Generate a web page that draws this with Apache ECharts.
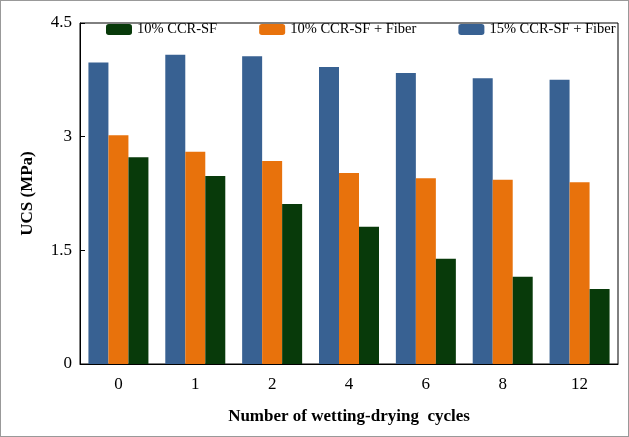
<!DOCTYPE html>
<html>
<head>
<meta charset="utf-8">
<script src="https://cdn.jsdelivr.net/npm/echarts@6/dist/echarts.min.js"></script>
<style>html,body{margin:0;padding:0;background:#fff}#c{width:627px;height:435px;border:1px solid #999}</style>
</head>
<body>
<div id="c"></div>
<script>
var cycles = ['0', '1', '2', '4', '6', '8', '12'];
var ccr10 = [2.73, 2.48, 2.11, 1.81, 1.39, 1.15, 0.99];
var ccr10Fiber = [3.02, 2.80, 2.68, 2.52, 2.45, 2.43, 2.40];
var ccr15Fiber = [3.98, 4.08, 4.06, 3.92, 3.84, 3.77, 3.75];
var yTicks = [0, 1.5, 3, 4.5];

var el = echarts.init(document.getElementById('c'));
var font = 'Liberation Serif';
el.setOption({
    textStyle: {fontFamily: font},
    animation: false,
    grid: {left: 79, right: 10, top: 22, bottom: 72, show: true, borderColor: '#000', borderWidth: 1},
    legend: {
        top: 16, left: 100, itemGap: 42, itemWidth: 26, itemHeight: 11,
        textStyle: {fontFamily: font, fontSize: 14.5, color: '#000'},
        data: ['10% CCR-SF', '10% CCR-SF + Fiber', '15% CCR-SF + Fiber']
    },
    xAxis: {
        type: 'category', data: cycles,
        name: 'Number of wetting-drying  cycles', nameLocation: 'middle', nameGap: 44,
        nameTextStyle: {fontFamily: font, fontSize: 17, fontWeight: 'bold', color: '#000'},
        axisLine: {lineStyle: {color: '#000'}},
        axisTick: {show: false},
        axisLabel: {fontSize: 17, color: '#000', margin: 12}
    },
    yAxis: {
        type: 'value', min: 0, max: 4.5, interval: 1.5,
        name: 'UCS (MPa)', nameLocation: 'middle', nameGap: 44,
        nameTextStyle: {fontFamily: font, fontSize: 17, fontWeight: 'bold', color: '#000'},
        axisLine: {show: true, lineStyle: {color: '#000'}},
        axisTick: {show: true, inside: true, length: 5, lineStyle: {color: '#000'}},
        splitLine: {show: false},
        axisLabel: {fontSize: 17, color: '#000', formatter: function (v) { return yTicks.indexOf(v) >= 0 ? String(v) : ''; }}
    },
    series: [
        {name: '15% CCR-SF + Fiber', type: 'bar', data: ccr15Fiber, itemStyle: {color: '#386192'}, barWidth: 20, barGap: '0%', barCategoryGap: '22%'},
        {name: '10% CCR-SF + Fiber', type: 'bar', data: ccr10Fiber, itemStyle: {color: '#e8720c'}, barWidth: 20},
        {name: '10% CCR-SF', type: 'bar', data: ccr10, itemStyle: {color: '#083a0a'}, barWidth: 20}
    ]
});
</script>
</body>
</html>
